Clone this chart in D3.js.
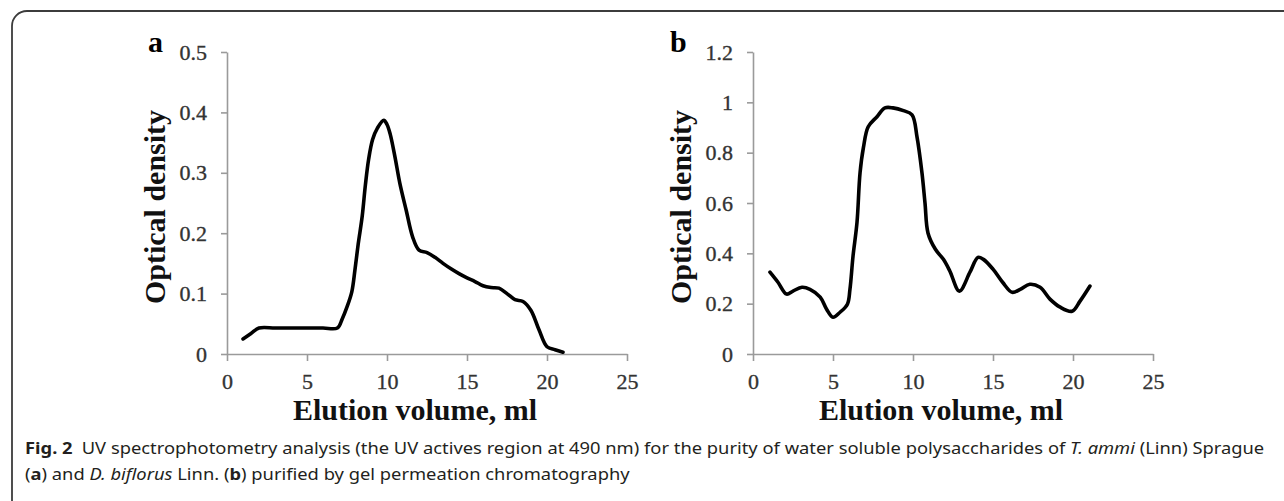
<!DOCTYPE html>
<html>
<head>
<meta charset="utf-8">
<script src="https://cdn.jsdelivr.net/npm/d3@7/dist/d3.min.js"></script>
<style>
  body { margin: 0; background: #fff; }
  .tick text { font-family: "Liberation Serif", serif; font-size: 22px; fill: #333; stroke: #333; stroke-width: 0.35; }
  .axis path, .axis line { stroke: #9a9a9a; stroke-width: 1.6; }
  .title { font-family: "Liberation Serif", serif; font-weight: bold; font-size: 30px; fill: #111; }
  .panel-label { font-family: "Liberation Serif", serif; font-weight: bold; font-size: 30px; fill: #000; }
  .caption { font-family: "Noto Sans", sans-serif; font-size: 16px; fill: #231f20; }
  .line { fill: none; stroke: #000; stroke-width: 3.6; stroke-linejoin: round; stroke-linecap: round; }
</style>
</head>
<body>
<div id="graphic"></div>
<script>
  var width = 1284;
  var height = 501;

  // panel a: T. ammi
  var volumeA = [1, 1.5, 2, 3, 4, 5, 6, 6.9, 7.2, 7.5, 7.8, 8.0, 8.2, 8.45, 8.65, 8.85, 9.1, 9.4, 9.8, 10.0, 10.2, 10.5, 10.8, 11.2, 11.6, 12.0, 12.5, 13.0, 13.5, 14.0, 14.5, 15.0, 15.5, 16.0, 16.5, 17.0, 17.5, 18.0, 18.5, 19.0, 19.5, 20.0, 20.5, 21];
  var densityA = [0.025, 0.034, 0.043, 0.043, 0.043, 0.043, 0.043, 0.043, 0.058, 0.078, 0.103, 0.14, 0.182, 0.228, 0.28, 0.322, 0.355, 0.374, 0.387, 0.38, 0.364, 0.326, 0.283, 0.238, 0.194, 0.172, 0.168, 0.16, 0.15, 0.141, 0.133, 0.126, 0.12, 0.113, 0.11, 0.109, 0.1, 0.09, 0.087, 0.072, 0.04, 0.012, 0.007, 0.003];

  // panel b: D. biflorus
  var volumeB = [1.06, 1.56, 2.1, 2.5, 3.06, 3.56, 4.2, 4.6, 5.0, 5.44, 5.9, 6.06, 6.25, 6.5, 6.69, 6.9, 7.2, 7.75, 8.25, 8.75, 9.4, 9.94, 10.25, 10.56, 10.75, 10.94, 11.4, 11.9, 12.3, 12.9, 13.56, 14.06, 14.4, 15.0, 15.6, 16.2, 16.7, 17.3, 17.94, 18.56, 19.2, 19.94, 20.44, 21.06];
  var densityB = [0.325, 0.285, 0.238, 0.25, 0.265, 0.257, 0.226, 0.178, 0.146, 0.166, 0.198, 0.257, 0.388, 0.523, 0.72, 0.82, 0.903, 0.943, 0.978, 0.978, 0.967, 0.95, 0.863, 0.72, 0.6, 0.48, 0.416, 0.376, 0.33, 0.25, 0.325, 0.384, 0.376, 0.337, 0.285, 0.245, 0.257, 0.277, 0.265, 0.218, 0.186, 0.17, 0.21, 0.27];

  var xTicks = [0, 5, 10, 15, 20, 25];
  var yTicksA = [0, 0.1, 0.2, 0.3, 0.4, 0.5];
  var yTicksB = [0, 0.2, 0.4, 0.6, 0.8, 1, 1.2];

  var xTitle = "Elution volume, ml";
  var yTitle = "Optical density";

  var captionLine1 = [
    { t: "Fig. 2", w: "bold" },
    { t: "\u2002UV spectrophotometry analysis (the UV actives region at 490 nm) for the purity of water soluble polysaccharides of " },
    { t: "T. ammi", s: "italic" },
    { t: " (Linn) Sprague" }
  ];
  var captionLine2 = [
    { t: "(" }, { t: "a", w: "bold" }, { t: ") and " },
    { t: "D. biflorus", s: "italic" },
    { t: " Linn. (" }, { t: "b", w: "bold" },
    { t: ") purified by gel permeation chromatography" }
  ];

  var svg = d3.select("#graphic")
    .append("svg")
    .attr("width", width)
    .attr("height", height);

  // frame
  svg.append("rect")
    .attr("x", 12).attr("y", 11)
    .attr("width", 1300).attr("height", 510)
    .attr("rx", 15)
    .attr("fill", "none")
    .attr("stroke", "#3c3c3c")
    .attr("stroke-width", 1.8);

  function renderPanel(p) {
    var xScale = d3.scaleLinear().domain([0, 25]).range([p.left, p.left + 400]);
    var yScale = d3.scaleLinear().domain([0, p.yMax]).range([354, 52]);

    var xAxis = d3.axisBottom(xScale)
      .tickValues(xTicks)
      .tickSize(7)
      .tickSizeOuter(0)
      .tickPadding(12)
      .tickFormat(d3.format("d"));

    var yAxis = d3.axisLeft(yScale)
      .tickValues(p.yTicks)
      .tickSize(6)
      .tickSizeOuter(0)
      .tickPadding(14)
      .tickFormat(function(d) { return String(+d.toFixed(1)); });

    svg.append("g")
      .attr("class", "axis")
      .attr("transform", "translate(0," + yScale(0) + ")")
      .call(xAxis);

    svg.append("g")
      .attr("class", "axis")
      .attr("transform", "translate(" + xScale(0) + ",0)")
      .call(yAxis);

    svg.selectAll(".tick text").attr("font-family", null).attr("font-size", null);

    svg.append("path")
      .datum(d3.zip(p.volume, p.density))
      .attr("class", "line")
      .attr("d", d3.line()
        .x(function(d) { return xScale(d[0]); })
        .y(function(d) { return yScale(d[1]); })
        .curve(d3.curveCatmullRom.alpha(0.5))
      );

    svg.append("text")
      .attr("class", "title")
      .attr("text-anchor", "middle")
      .attr("x", xScale(12.5) - 12)
      .attr("y", 420)
      .text(xTitle);

    svg.append("text")
      .attr("class", "title")
      .attr("text-anchor", "middle")
      .attr("transform", "translate(" + (xScale(0) - 62) + ",207) rotate(-90)")
      .text(yTitle);

    svg.append("text")
      .attr("class", "panel-label")
      .attr("x", p.labelX)
      .attr("y", 52)
      .text(p.label);
  }

  renderPanel({ left: 227, yMax: 0.5, yTicks: yTicksA, volume: volumeA, density: densityA, label: "a", labelX: 148 });
  renderPanel({ left: 753, yMax: 1.2, yTicks: yTicksB, volume: volumeB, density: densityB, label: "b", labelX: 670 });

  function captionLine(parts, y) {
    var t = svg.append("text")
      .attr("class", "caption")
      .attr("x", 25)
      .attr("y", y);
    parts.forEach(function(part) {
      t.append("tspan")
        .attr("font-weight", part.w || null)
        .attr("font-style", part.s || null)
        .text(part.t);
    });
    return t;
  }

  var line1 = captionLine(captionLine1, 454);
  var line2 = captionLine(captionLine2, 480);
  var sx = 1240 / line1.node().getComputedTextLength();
  [line1, line2].forEach(function(t) {
    t.attr("transform", "translate(25,0) scale(" + sx + ",1) translate(-25,0)");
  });
</script>
</body>
</html>
